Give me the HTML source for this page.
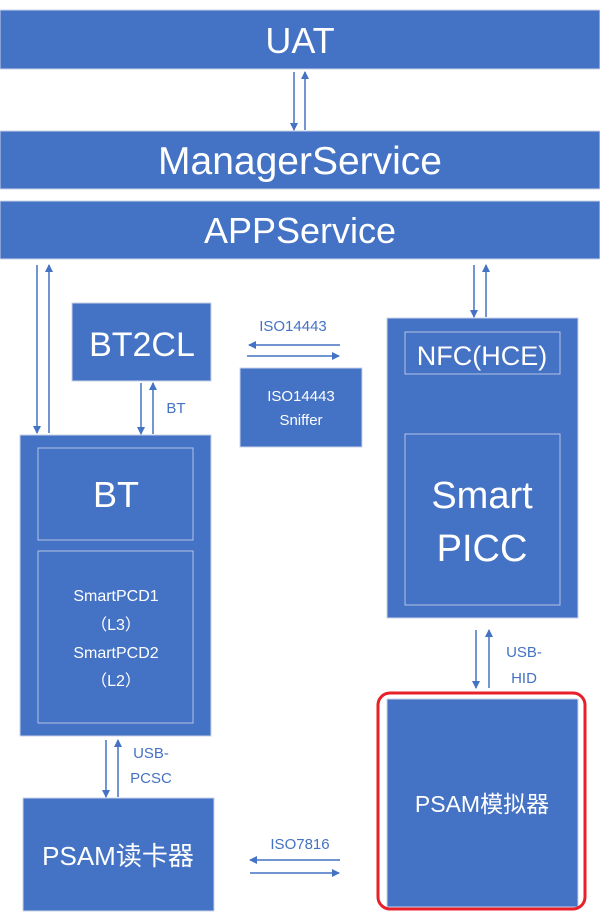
<!DOCTYPE html>
<html><head><meta charset="utf-8"><style>
html,body{margin:0;padding:0;background:#fff;}
svg{display:block;}
text{font-family:"Liberation Sans","Noto Sans CJK SC",sans-serif;fill:#fff;text-anchor:middle;}
.l{fill:#4472C4;}
</style></head><body>
<svg width="600" height="913" viewBox="0 0 600 913" xmlns="http://www.w3.org/2000/svg">
<defs>
<marker id="a" markerWidth="8" markerHeight="8" refX="7" refY="4" orient="auto" markerUnits="userSpaceOnUse">
<path d="M0,0 L8,4 L0,8 z" fill="#4472C4"/></marker>
</defs>
<g fill="#4472C4" stroke="#c9d3e8" stroke-width="1">
<rect x="0" y="10" width="600" height="59"/>
<rect x="0" y="131" width="600" height="58"/>
<rect x="0" y="201" width="600" height="58"/>
<rect x="72" y="303" width="139" height="78"/>
<rect x="240" y="368" width="122" height="79"/>
<rect x="387" y="318" width="191" height="300"/>
<rect x="20" y="435" width="191" height="301"/>
<rect x="23" y="798" width="191" height="113"/>
<rect x="387" y="699" width="191" height="208"/>
</g>
<g fill="none" stroke="#b4c4e4" stroke-width="1">
<rect x="405" y="332" width="155" height="42"/>
<rect x="405" y="434" width="155" height="171"/>
<rect x="38" y="448" width="155" height="92"/>
<rect x="38" y="551" width="155" height="172"/>
</g>
<rect x="378" y="693" width="207" height="216" rx="12" fill="none" stroke="#e8202a" stroke-width="3"/>
<g stroke="#4472C4" stroke-width="1.5" marker-end="url(#a)">
<line x1="294" y1="72" x2="294" y2="130"/>
<line x1="305" y1="130" x2="305" y2="72"/>
<line x1="37" y1="265" x2="37" y2="433"/>
<line x1="49" y1="433" x2="49" y2="265"/>
<line x1="474" y1="265" x2="474" y2="317"/>
<line x1="486" y1="317" x2="486" y2="265"/>
<line x1="141" y1="383" x2="141" y2="434"/>
<line x1="153" y1="434" x2="153" y2="383"/>
<line x1="340" y1="345" x2="249" y2="345"/>
<line x1="247" y1="356" x2="339" y2="356"/>
<line x1="106" y1="740" x2="106" y2="797"/>
<line x1="118" y1="797" x2="118" y2="740"/>
<line x1="476" y1="630" x2="476" y2="688"/>
<line x1="489" y1="688" x2="489" y2="630"/>
<line x1="340" y1="860" x2="250" y2="860"/>
<line x1="250" y1="873" x2="339" y2="873"/>
</g>
<text x="300" y="53" font-size="36">UAT</text>
<text x="300" y="174" font-size="39">ManagerService</text>
<text x="300" y="243" font-size="36">APPService</text>
<text x="142" y="356" font-size="34">BT2CL</text>
<text x="301" y="401" font-size="15">ISO14443</text>
<text x="301" y="425" font-size="15">Sniffer</text>
<text x="482" y="365" font-size="27">NFC(HCE)</text>
<text x="482" y="508" font-size="38">Smart</text>
<text x="482" y="561" font-size="38">PICC</text>
<text x="116" y="507" font-size="36">BT</text>
<text x="116" y="601" font-size="16">SmartPCD1</text>
<text x="116" y="630" font-size="16">（L3）</text>
<text x="116" y="658" font-size="16">SmartPCD2</text>
<text x="116" y="686" font-size="16">（L2）</text>
<text x="118" y="865" font-size="26">PSAM读卡器</text>
<text x="482" y="812" font-size="23">PSAM模拟器</text>
<text class="l" x="293" y="331" font-size="15">ISO14443</text>
<text class="l" x="176" y="413" font-size="15">BT</text>
<text class="l" x="151" y="758" font-size="15">USB-</text>
<text class="l" x="151" y="783" font-size="15">PCSC</text>
<text class="l" x="524" y="657" font-size="15">USB-</text>
<text class="l" x="524" y="683" font-size="15">HID</text>
<text class="l" x="300" y="849" font-size="15">ISO7816</text>
</svg>
</body></html>
